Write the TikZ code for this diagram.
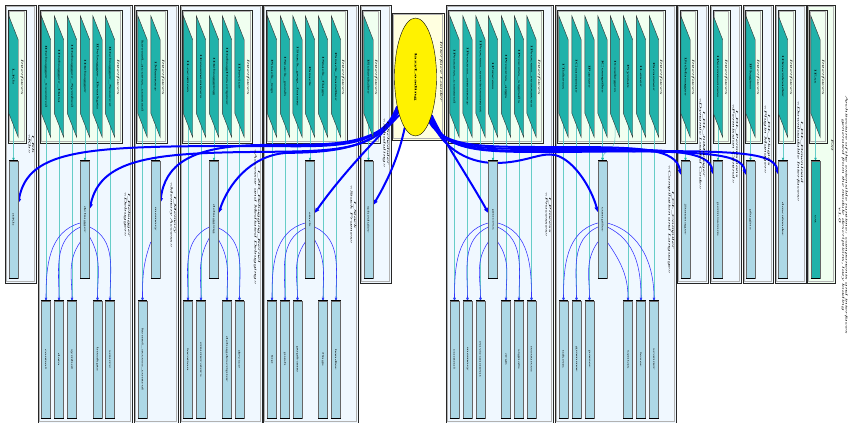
\documentclass[tikz,border=0pt]{standalone}
\usepackage{fontspec}
\setmainfont{Liberation Serif}
\usepackage{graphicx}
\usetikzlibrary{arrows.meta,shapes.geometric}
\pgfdeclarelayer{back}
\pgfdeclarelayer{edges}
\pgfsetlayers{back,edges,main}
\definecolor{cl}{HTML}{F0F8FF}
\definecolor{hd}{HTML}{F0FFF0}
\definecolor{ls}{HTML}{20B2AA}
\definecolor{lb}{HTML}{ADD8E6}
\definecolor{ly}{HTML}{FFFFE0}
\definecolor{cy}{RGB}{102,205,200}
\definecolor{bt}{RGB}{50,50,255}
\newcommand\rt[1]{\scalebox{0.34}[1]{\rotatebox{-90}{#1}}}
\newcommand\rtl[1]{\rt{\fontsize{9}{10}\selectfont\itshape\begin{tabular}{@{}c@{}}#1\end{tabular}}}
\tikzset{
  trapph/.style={minimum width=9pt,minimum height=121pt,inner sep=0pt,draw=none},
  trapshape/.style={fill=ls,draw=black!80,line width=0.4pt},
  smalltext/.style={inner sep=0pt},
  comp/.style={draw=black!60,fill=lb,minimum width=9pt,minimum height=117pt,inner sep=0pt},
  cyanedge/.style={draw=cy,line width=0.5pt,-{Triangle[length=3pt,width=2.4pt,color=ls]}},
  thinblue/.style={draw=bt,line width=0.55pt,-{Triangle[length=3pt,width=2.4pt]}},
  bigblue/.style={draw=blue,line width=2pt,-{Triangle[length=5pt,width=4pt]}},
  cllabel/.style={inner sep=0pt},
}
\newcommand\myclust[5]{%
  \begin{pgfonlayer}{back}
  \fill[#5] (#1,#2) rectangle (#3,#4);
  \draw[gray!60,line width=1.1pt] (#1+1.1,#2+1.1) rectangle (#3-1.1,#4-1.1);
  \draw[black!85,line width=0.6pt] (#1,#2) rectangle (#3,#4);
  \end{pgfonlayer}}
\newcommand\mytrap[3]{%
  \node[trapph] (#1) at (#2,76.5) {};
  \filldraw[trapshape] (#1.north west) -- ([yshift=-24pt]#1.north east) -- (#1.south east) -- ([yshift=24pt]#1.south west) -- cycle;
  \node[smalltext] (#1-t) at (#1.center) {\rt{\fontsize{8}{9}\selectfont #3}};}
\newcommand\mycomp[5]{%
  \node[comp,#5] (#1) at (#2,#3) {\rt{\fontsize{7}{8}\selectfont #4}};
  \draw[line width=0.9pt] (#1.north west) -- (#1.north east) (#1.south west) -- (#1.south east);}
\newcommand\ife[2]{\begin{pgfonlayer}{edges}\draw[cyanedge] (#1.center) -- (#2.north);\end{pgfonlayer}}
\newcommand\sube[4]{\begin{pgfonlayer}{edges}\draw[thinblue] ([yshift=#2pt]#1) to[out=#3,in=90] (#4.north);\end{pgfonlayer}}
\begin{document}
\begin{tikzpicture}[x=1pt,y=-1pt]
\useasboundingbox (0,0) rectangle (849,423);
% ---------- clusters
\myclust{5}{5}{36}{283}{cl}
\myclust{38}{5}{132}{423}{cl}
\myclust{134}{5}{178}{423}{cl}
\myclust{180}{5}{262}{423}{cl}
\myclust{263}{5}{358}{423}{cl}
\myclust{360}{5}{391}{283}{cl}
\myclust{392}{13}{444}{140}{ly}
\myclust{446}{5}{553}{423}{cl}
\myclust{555}{5}{676}{423}{cl}
\myclust{677}{5}{708}{283}{cl}
\myclust{710}{5}{741}{283}{cl}
\myclust{743}{5}{773}{283}{cl}
\myclust{775}{5}{806}{283}{cl}
\myclust{807}{5}{835}{283}{hd}
% interface boxes
\myclust{8}{10}{26}{143}{hd}
\myclust{40}{10}{122}{143}{hd}
\myclust{136}{10}{167}{143}{hd}
\myclust{182}{10}{252}{143}{hd}
\myclust{266}{10}{347}{143}{hd}
\myclust{362}{10}{380}{143}{hd}
\myclust{448}{10}{543}{143}{hd}
\myclust{557}{10}{665}{143}{hd}
\myclust{680}{10}{697}{143}{hd}
\myclust{713}{10}{730}{143}{hd}
\myclust{745}{10}{762}{143}{hd}
\myclust{778}{10}{795}{143}{hd}
\myclust{809}{10}{827}{143}{hd}
\foreach \gx/\gn in {22/g1,118/g2,163/g3,248/g4,343/g5,376/g6,539/g7,661/g8,693/g9,726/g10,758/g11,791/g12,823/g13}{
  \node[cllabel] (\gn) at (\gx,77) {\rtl{Interfaces}};}
% ---------- core
\node[ellipse,draw=black,fill=yellow,minimum width=42pt,minimum height=118pt,inner sep=0pt] (core) at (415.5,77) {\rt{\fontsize{9}{10}\selectfont\bfseries lazyLoading}};
\node[cllabel] (corel) at (441,72) {\rtl{Interface Loader}};
% ---------- C1
\mytrap{t1a}{13.5}{I\_Kb}
\mycomp{c1m}{13.5}{219.5}{rtKb}{}
\node[cllabel] (L1) at (31,144) {\rtl{I\_Kb\\«Kb»}};
% ---------- C2
\mytrap{t2a}{46}{IDebugger\_Control}
\mytrap{t2b}{59}{IDebugger\_Data}
\mytrap{t2c}{72}{IDebugger\_Symbol}
\mytrap{t2d}{85}{IDebugger}
\mytrap{t2e}{97.5}{IDebugger\_Breakpts}
\mytrap{t2f}{110}{IDebugger\_Source}
\mycomp{c2m}{85}{219.5}{debugger}{}
\mycomp{c2a}{46}{359.5}{control}{}
\mycomp{c2b}{59}{359.5}{data}{}
\mycomp{c2c}{72}{359.5}{symbol}{}
\mycomp{c2d}{97.5}{359.5}{breakpts}{}
\mycomp{c2e}{110}{359.5}{source}{}
\node[cllabel] (L2) at (127,215) {\rtl{I\_Debugger\\«Debugger»}};
% ---------- C3
\mytrap{t3a}{142.5}{kernel\_access\_control}
\mytrap{t3b}{155.5}{IMemory}
\mycomp{c3m}{155.5}{219.5}{memory}{}
\mycomp{c3a}{142.5}{359.5}{kernel\_access\_control}{}
\node[cllabel] (L3) at (173,215) {\rtl{I\_Memory\\«Memory Access»}};
% ---------- C4
\mytrap{t4a}{188}{ILocation}
\mytrap{t4b}{201}{IEnumerators}
\mytrap{t4c}{214}{IDebugging}
\mytrap{t4d}{227}{IDebugDescriptor}
\mytrap{t4e}{239.5}{IDevice}
\mycomp{c4m}{214}{219.5}{debugging}{}
\mycomp{c4a}{188}{359.5}{location}{}
\mycomp{c4b}{201}{359.5}{enumerators}{}
\mycomp{c4d}{227}{359.5}{debugdescriptor}{}
\mycomp{c4e}{239.5}{359.5}{device}{}
\node[cllabel] (L4) at (257,217) {\rtl{I\_ZD\_Debugging\_Kernel\\«Accessor and Mediated Debugging»}};
% ---------- C5
\mytrap{t5a}{272}{IStack\_top}
\mytrap{t5b}{285}{IStack\_push}
\mytrap{t5c}{297.5}{IStack\_pop\_frame}
\mytrap{t5d}{310}{IStack}
\mytrap{t5e}{323}{IStack\_flags}
\mytrap{t5f}{336}{IStack\_handler}
\mycomp{c5m}{310}{219.5}{stack}{}
\mycomp{c5a}{272}{359.5}{top}{}
\mycomp{c5b}{285}{359.5}{push}{}
\mycomp{c5c}{297.5}{359.5}{popframe}{}
\mycomp{c5e}{323}{359.5}{flags}{}
\mycomp{c5f}{336}{359.5}{handler}{}
\node[cllabel] (L5) at (353,215) {\rtl{I\_Stack\\«Stack Frames»}};
% ---------- C6
\mytrap{t6a}{368.5}{IScheduler}
\mycomp{c6m}{368.5}{219.5}{scheduler}{}
\node[cllabel] (L6) at (386,143) {\rtl{I\_Scheduler\\«Scheduling»}};
% ---------- C7
\mytrap{t7a}{454.5}{IProcess\_control}
\mytrap{t7b}{467.5}{IProcess\_memory}
\mytrap{t7c}{480.5}{IProcess\_environment}
\mytrap{t7d}{493}{IProcess}
\mytrap{t7e}{506}{IProcess\_args}
\mytrap{t7f}{519}{IProcess\_signals}
\mytrap{t7g}{531.5}{IProcess\_resources}
\mycomp{c7m}{493}{219.5}{process}{}
\mycomp{c7a}{454.5}{359.5}{control}{}
\mycomp{c7b}{467.5}{359.5}{memory}{}
\mycomp{c7c}{480.5}{359.5}{environment}{}
\mycomp{c7e}{506}{359.5}{args}{}
\mycomp{c7f}{519}{359.5}{signals}{}
\mycomp{c7g}{531.5}{359.5}{resources}{}
\node[cllabel] (L7) at (548,215) {\rtl{I\_Process\\«Processes»}};
% ---------- C8
\mytrap{t8a}{563.5}{ITokens}
\mytrap{t8b}{576.5}{IGrammar}
\mytrap{t8c}{589.5}{IParser}
\mytrap{t8d}{602.5}{ICompiler}
\mytrap{t8e}{615}{ICodegen}
\mytrap{t8f}{628}{ISyntax}
\mytrap{t8g}{641}{ILexer}
\mytrap{t8h}{654}{IScanner}
\mycomp{c8m}{602.5}{219.5}{compiler}{}
\mycomp{c8a}{563.5}{359.5}{tokens}{}
\mycomp{c8b}{576.5}{359.5}{grammar}{}
\mycomp{c8c}{589.5}{359.5}{parser}{}
\mycomp{c8f}{628}{359.5}{syntax}{}
\mycomp{c8g}{641}{359.5}{lexer}{}
\mycomp{c8h}{654}{359.5}{scanner}{}
\node[cllabel] (L8) at (671,220) {\rtl{I\_CL\_Compiler\\«Compilation and Language»}};
% ---------- C9..C13
\mytrap{t9a}{685.5}{IJitManager}
\mycomp{c9m}{685.5}{219.5}{jitmanager}{}
\node[cllabel] (L9) at (702,144) {\rtl{I\_DL\_JitManager\\«Dynamic Loaded Code»}};
\mytrap{t10a}{718}{IPermissions}
\mycomp{c10m}{718}{219.5}{permissions}{}
\node[cllabel] (L10) at (735,144) {\rtl{I\_DL\_Permissions\\«Permission Control»}};
\mytrap{t11a}{750.5}{IPlugins}
\mycomp{c11m}{750.5}{219.5}{plugins}{}
\node[cllabel] (L11) at (767,140) {\rtl{I\_DL\_Plugins\\«Plugin Manager»}};
\mytrap{t12a}{783}{IDownloader}
\mycomp{c12m}{783}{219.5}{downloader}{}
\node[cllabel] (L12) at (800,152) {\rtl{I\_DL\_Download\\«Downloadable Interfaces»}};
\mytrap{t13a}{815.5}{IExt}
\mycomp{c13m}{815.5}{219.5}{ext}{fill=ls}
\node[cllabel] (L13) at (832,145) {\rtl{Ext}};
\node[cllabel] (title) at (843,215) {\rtl{Architecture of the extensible runtime: components and interfaces\\generated from the module descriptions, lazy loading\\v1.0}};
% ---------- interface edges
\ife{t1a}{c1m}
\foreach \a/\b in {t2a/c2a,t2b/c2b,t2c/c2c,t2d/c2m,t2e/c2d,t2f/c2e,t3a/c3a,t3b/c3m,
  t4a/c4a,t4b/c4b,t4c/c4m,t4d/c4d,t4e/c4e,t5a/c5a,t5b/c5b,t5c/c5c,t5d/c5m,t5e/c5e,t5f/c5f,
  t6a/c6m,t7a/c7a,t7b/c7b,t7c/c7c,t7d/c7m,t7e/c7e,t7f/c7f,t7g/c7g,
  t8a/c8a,t8b/c8b,t8c/c8c,t8d/c8m,t8f/c8f,t8g/c8g,t8h/c8h,
  t9a/c9m,t10a/c10m,t11a/c11m,t12a/c12m,t13a/c13m}{\ife{\a}{\b}}
\begin{pgfonlayer}{edges}
\draw[cyanedge] (t8e.center) -- ([yshift=-61pt]t8e.center) .. controls (615,152) and (603,150) .. (c8m.north);
\end{pgfonlayer}
% ---------- sub edges
\sube{c2m.west}{-3.5}{195}{c2a}
\sube{c2m.west}{-7.5}{205}{c2b}
\sube{c2m.west}{-22.5}{235}{c2c}
\sube{c2m.east}{-17.5}{-60}{c2d}
\sube{c2m.east}{-7.5}{-25}{c2e}
\sube{c3m.west}{-22.5}{250}{c3a}
\sube{c4m.west}{-7.5}{205}{c4a}
\sube{c4m.west}{-18.5}{240}{c4b}
\sube{c4m.east}{-20.5}{-60}{c4d}
\sube{c4m.east}{-8.5}{-25}{c4e}
\sube{c5m.west}{-3.5}{195}{c5a}
\sube{c5m.west}{-8.5}{205}{c5b}
\sube{c5m.west}{-22.5}{235}{c5c}
\sube{c5m.east}{-20.5}{-60}{c5e}
\sube{c5m.east}{-7.5}{-25}{c5f}
\sube{c7m.west}{-3.5}{195}{c7a}
\sube{c7m.west}{-7.5}{205}{c7b}
\sube{c7m.west}{-22.5}{235}{c7c}
\sube{c7m.east}{-22.5}{-55}{c7e}
\sube{c7m.east}{-7.5}{-25}{c7f}
\sube{c7m.east}{-3.5}{-15}{c7g}
\sube{c8m.west}{-3.5}{195}{c8a}
\sube{c8m.west}{-7.5}{205}{c8b}
\sube{c8m.west}{-22.5}{235}{c8c}
\sube{c8m.east}{-22.5}{-55}{c8f}
\sube{c8m.east}{-7.5}{-25}{c8g}
\sube{c8m.east}{-3.5}{-15}{c8h}
% ---------- core edges
\begin{pgfonlayer}{edges}
\draw[bigblue] (core.238) .. controls (380,152) and (330,146) .. (250,146) .. controls (90,146) and (28,148) .. ([yshift=16pt]c1m.east);
\draw[bigblue] (core.240) .. controls (380,154) and (330,151) .. (250,152) .. controls (150,153) and (100,160) .. ([yshift=10.5pt]c2m.east);
\draw[bigblue] (core.242) .. controls (378,150) and (320,144) .. (260,145) .. controls (190,146) and (165,165) .. ([yshift=16.5pt]c3m.east);
\draw[bigblue] (core.244) .. controls (375,153) and (320,152) .. (285,153) .. controls (250,156) and (228,185) .. ([yshift=6.5pt]c4m.east);
\draw[bigblue] (core.247) .. controls (385,130) and (345,170) .. ([yshift=6.5pt]c5m.east);
\draw[bigblue] (core.258) .. controls (398,160) and (385,185) .. ([yshift=14.5pt]c6m.east);
\draw[bigblue] (core.293) .. controls (440,135) and (470,180) .. ([yshift=6.5pt]c7m.west);
\draw[bigblue] (core.290) .. controls (440,145) and (465,163) .. (495,163) .. controls (525,163) and (540,152) .. (555,155) .. controls (575,160) and (592,190) .. ([yshift=7.5pt]c8m.west);
\draw[bigblue] (core.287) .. controls (445,148) and (480,147) .. (560,147) .. controls (640,147) and (676,148) .. ([yshift=-14pt]c9m.north west);
\draw[bigblue] (core.288) .. controls (445,150) and (480,149) .. (560,149) .. controls (670,149) and (709,150) .. ([yshift=-14pt]c10m.north west);
\draw[bigblue] (core.289) .. controls (445,152) and (480,151) .. (560,151) .. controls (700,151) and (741,152) .. ([yshift=-14pt]c11m.north west);
\draw[bigblue] (core.291) .. controls (445,153) and (480,152) .. (560,152) .. controls (730,150) and (774,150) .. ([yshift=-14pt]c12m.north west);
\end{pgfonlayer}
\end{tikzpicture}
\end{document}
